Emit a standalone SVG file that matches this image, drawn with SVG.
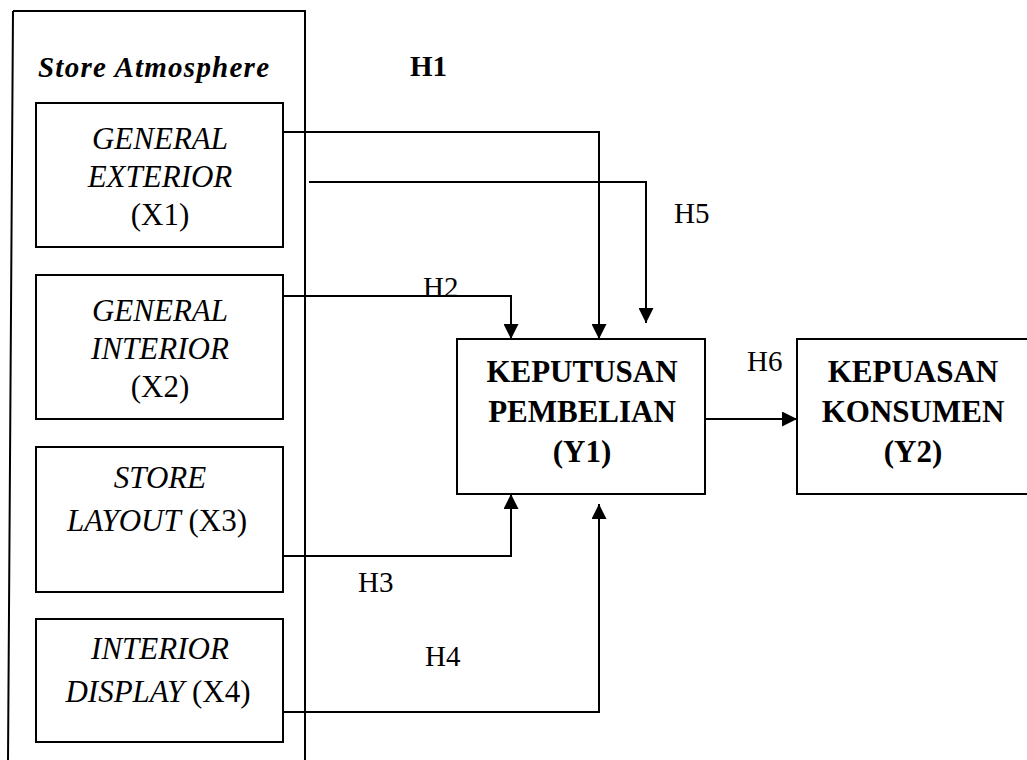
<svg xmlns="http://www.w3.org/2000/svg" width="1027" height="760" viewBox="0 0 1027 760">
<style>
.box{fill:#fff;stroke:#000;stroke-width:2}
.frame{fill:none;stroke:#000;stroke-width:2}
.conn{fill:none;stroke:#000;stroke-width:2;marker-end:url(#ah)}
.line{fill:none;stroke:#000;stroke-width:2}
text{font-family:"Liberation Serif","Times New Roman",serif;fill:#000}
.it{font-size:31px;font-style:italic}
.rg{font-size:31px}
.bd{font-size:31px;font-weight:bold}
.bi{font-size:29px;font-weight:bold;font-style:italic}
.h{font-size:29px}
</style>
<defs>
<marker id="ah" markerUnits="userSpaceOnUse" markerWidth="16" markerHeight="15" refX="15" refY="7.5" orient="auto">
<path d="M0,0 L15,7.5 L0,15 z" fill="#000"/>
</marker>
</defs>
<rect width="1027" height="760" fill="#fff"/>
<g id="store-atmosphere">
<path class="frame" d="M13,11 H305 V762 M13,11 L8,762"/>
<text class="bi" x="38" y="77" textLength="231">Store Atmosphere</text>
</g>
<g id="h1-label"><text class="bd" x="410" y="76" style="font-size:29px">H1</text></g>
<g id="x1">
<rect class="box" x="36" y="103" width="247" height="144"/>
<text class="it" x="160" y="149" text-anchor="middle">GENERAL</text>
<text class="it" x="160" y="187" text-anchor="middle">EXTERIOR</text>
<text class="rg" x="160" y="225" text-anchor="middle">(X1)</text>
</g>
<g id="x2">
<rect class="box" x="36" y="275" width="247" height="144"/>
<text class="it" x="160" y="321" text-anchor="middle">GENERAL</text>
<text class="it" x="160" y="359" text-anchor="middle">INTERIOR</text>
<text class="rg" x="160" y="397" text-anchor="middle">(X2)</text>
</g>
<g id="x3">
<rect class="box" x="36" y="447" width="247" height="145"/>
<text class="it" x="160" y="488" text-anchor="middle">STORE</text>
<text x="157" y="531" text-anchor="middle" class="rg"><tspan font-style="italic">LAYOUT</tspan> (X3)</text>
</g>
<g id="x4">
<rect class="box" x="36" y="619" width="247" height="123"/>
<text class="it" x="160" y="659" text-anchor="middle">INTERIOR</text>
<text x="158" y="702" text-anchor="middle" class="rg"><tspan font-style="italic">DISPLAY</tspan> (X4)</text>
</g>
<g id="y1">
<rect class="box" x="457" y="339" width="248" height="155"/>
<text class="bd" x="582" y="382" text-anchor="middle">KEPUTUSAN</text>
<text class="bd" x="582" y="422" text-anchor="middle">PEMBELIAN</text>
<text class="bd" x="582" y="462" text-anchor="middle">(Y1)</text>
</g>
<g id="y2">
<rect class="box" x="797" y="339" width="232" height="155"/>
<text class="bd" x="913" y="382" text-anchor="middle">KEPUASAN</text>
<text class="bd" x="913" y="422" text-anchor="middle">KONSUMEN</text>
<text class="bd" x="913" y="462" text-anchor="middle">(Y2)</text>
</g>
<g id="connectors">
<path class="conn" d="M283,132 H599 V339"/>
<path class="conn" d="M309,182 H646 V323"/>
<path class="conn" d="M283,296 H511 V339"/>
<path class="conn" d="M283,556 H511 V494"/>
<path class="conn" d="M283,712 H599 V504"/>
<path class="conn" d="M705,419 H797"/>
</g>
<g id="labels">
<text class="h" x="423" y="297">H2</text>
<text class="h" x="358" y="592">H3</text>
<text class="h" x="425" y="666">H4</text>
<text class="h" x="674" y="223">H5</text>
<text class="h" x="747" y="371">H6</text>
</g>
</svg>
